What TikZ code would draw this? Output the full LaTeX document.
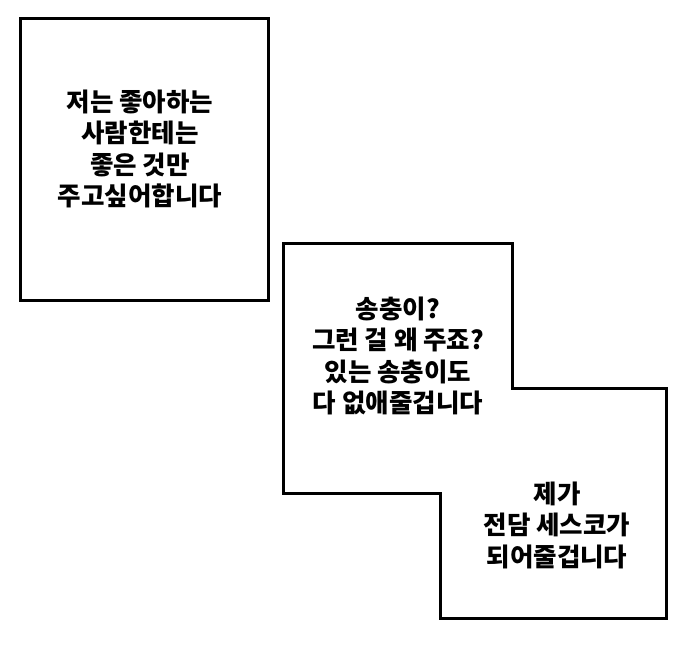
\documentclass[tikz,border=0pt]{standalone}
\usepackage{fontspec}
\newfontfamily\kr{Noto Sans CJK KR}
\begin{document}
\begin{tikzpicture}[x=1pt,y=-1pt]
  \tikzset{panel/.style={line width=3pt,line join=miter},
    bubble/.style={align=center,font=\kr\bfseries\fontsize{25.5}{31.5}\selectfont}}
  \useasboundingbox (0,0) rectangle (679,656);
  % left panel
  \draw[panel] (20,18) rectangle (268,300);
  \node[bubble] (likes) at (140,149) {저는 좋아하는\\사람한테는\\좋은 것만\\주고싶어합니다};
  % stepped panel
  \draw[panel] (283,243) -- (512,243) -- (512,388) -- (666,388) -- (666,618)
    -- (440,618) -- (440,493) -- (283,493) -- cycle;
  \node[bubble] (bugs) at (398,356) {송충이?\\그런 걸 왜 주죠?\\있는 송충이도\\다 없애줄겁니다};
  \node[bubble] (sesco) at (557,525) {제가\\전담 세스코가\\되어줄겁니다};
\end{tikzpicture}
\end{document}
